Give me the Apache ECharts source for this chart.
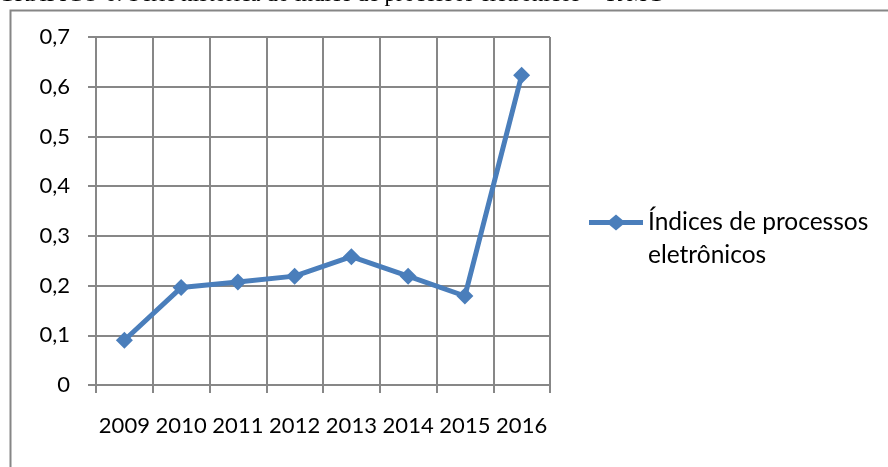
<!DOCTYPE html>
<html>
<head>
<meta charset="utf-8">
<script src="https://cdn.jsdelivr.net/npm/echarts@6/dist/echarts.min.js"></script>
<style>
html,body{margin:0;padding:0;background:#fff;}
#chart{width:888px;height:467px;}
</style>
</head>
<body>
<div id="chart"></div>
<script>
// Série histórica do índice de processos eletrônicos
const years = ['2009', '2010', '2011', '2012', '2013', '2014', '2015', '2016'];
const indices = [0.09, 0.196, 0.207, 0.219, 0.258, 0.219, 0.179, 0.623];
const yTicks = [0, 0.1, 0.2, 0.3, 0.4, 0.5, 0.6, 0.7];
const seriesName = 'Índices de processos eletrônicos';
const captionText = 'GRÁFICO 6: Série histórica do índice de processos eletrônicos – TJMG';

const gridColor = '#878787';
const lineColor = '#4a7ebb';
const labelFont = 'Lato, "Open Sans", sans-serif';

// legend key: thick line with a diamond in the middle
const legendIcon = 'path://M0,5.5 H20.5 L27,0 L33.5,5.5 H54 V10.5 H33.5 L27,16 L20.5,10.5 H0 Z';

const chart = echarts.init(document.getElementById('chart'), null, {renderer: 'canvas'});
chart.setOption({
  animation: false,
  backgroundColor: '#fff',
  graphic: [
    {
      type: 'rect', left: 8, top: 8, silent: true,
      shape: {width: 900, height: 480},
      style: {fill: 'none', stroke: '#868686', lineWidth: 2}
    },
    {
      type: 'text', x: -2, y: 6, silent: true,
      style: {
        text: captionText, fill: '#000',
        font: '23px "Liberation Serif", serif',
        verticalAlign: 'bottom'
      }
    }
  ],
  grid: {left: 96, top: 37, right: 338, bottom: 82, containLabel: false},
  legend: {
    data: [{name: seriesName, icon: legendIcon}],
    left: 589, top: 173,
    padding: 0,
    itemWidth: 54, itemHeight: 16,
    itemGap: 0,
    selectedMode: false,
    itemStyle: {color: lineColor},
    formatter: () => '\nÍndices de processos\neletrônicos',
    textStyle: {
      fontFamily: labelFont, fontSize: 24.5, color: '#000',
      lineHeight: 33
    }
  },
  xAxis: {
    type: 'category',
    data: years,
    boundaryGap: true,
    axisLine: {show: true, lineStyle: {color: gridColor, width: 2}},
    axisTick: {show: true, length: 8, alignWithLabel: false, lineStyle: {color: gridColor, width: 2}},
    splitLine: {show: true, lineStyle: {color: gridColor, width: 2}},
    axisLabel: {
      fontFamily: labelFont, fontSize: 22, color: '#000', margin: 30,
      interval: 0
    }
  },
  yAxis: {
    type: 'value',
    min: 0, max: 0.7, interval: 0.1,
    axisLine: {show: true, lineStyle: {color: gridColor, width: 2}},
    axisTick: {show: true, length: 8, lineStyle: {color: gridColor, width: 2}},
    splitLine: {show: true, lineStyle: {color: gridColor, width: 2}},
    axisLabel: {
      fontFamily: labelFont, fontSize: 22, color: '#000', margin: 26,
      formatter: v => {
        const t = yTicks.find(k => Math.abs(k - v) < 1e-9);
        return t === 0 ? '0' : String(t.toFixed(1)).replace('.', ',');
      }
    }
  },
  series: [{
    name: seriesName,
    type: 'line',
    data: indices,
    symbol: 'diamond',
    symbolSize: 17,
    lineStyle: {color: lineColor, width: 5},
    itemStyle: {color: lineColor},
    z: 5
  }]
});
</script>
</body>
</html>
